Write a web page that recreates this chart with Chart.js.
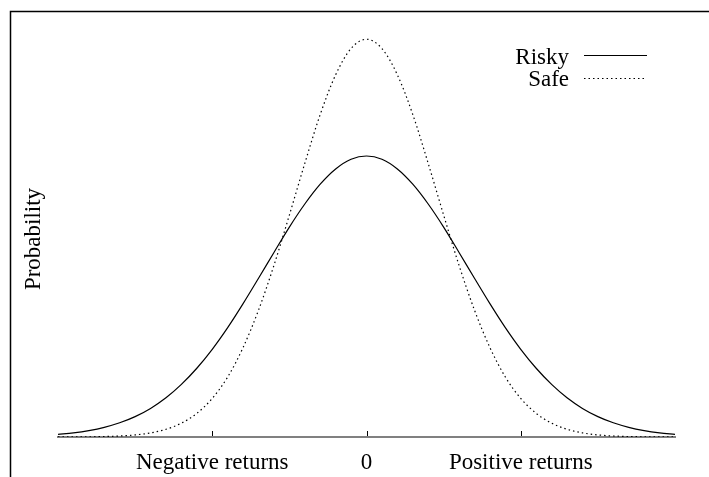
<!DOCTYPE html>
<html>
<head>
<meta charset="utf-8">
<script src="https://cdn.jsdelivr.net/npm/chart.js@4/dist/chart.umd.min.js"></script>
<style>
  html, body { margin: 0; padding: 0; background: #fff; }
  #wrap { position: relative; width: 709px; height: 477px; }
</style>
</head>
<body>
<div id="wrap"><canvas id="chart" width="709" height="477"></canvas></div>
<script>
// returns (x) sampled every 0.1 from -2 to 2
const returns = [
  -2.0, -1.9, -1.8, -1.7, -1.6, -1.5, -1.4, -1.3, -1.2, -1.1,
  -1.0, -0.9, -0.8, -0.7, -0.6, -0.5, -0.4, -0.3, -0.2, -0.1,
  0.0,
  0.1, 0.2, 0.3, 0.4, 0.5, 0.6, 0.7, 0.8, 0.9, 1.0,
  1.1, 1.2, 1.3, 1.4, 1.5, 1.6, 1.7, 1.8, 1.9, 2.0,
];

const riskyValues = [
  0.0058, 0.0091, 0.014, 0.021, 0.0308, 0.0442, 0.062, 0.085, 0.114, 0.149,
  0.19, 0.237, 0.289, 0.344, 0.4, 0.455, 0.505, 0.548, 0.581, 0.602,
  0.609,
  0.602, 0.581, 0.548, 0.505, 0.455, 0.4, 0.344, 0.289, 0.237, 0.19,
  0.149, 0.114, 0.085, 0.062, 0.0442, 0.0308, 0.021, 0.014, 0.0091, 0.0058,
];

const safeValues = [
  0.0001, 0.0002, 0.0004, 0.001, 0.0022, 0.0045, 0.0089, 0.0167, 0.03, 0.0513,
  0.0836, 0.13, 0.194, 0.275, 0.372, 0.481, 0.593, 0.699, 0.785, 0.842,
  0.862,
  0.842, 0.785, 0.699, 0.593, 0.481, 0.372, 0.275, 0.194, 0.13, 0.0836,
  0.0513, 0.03, 0.0167, 0.0089, 0.0045, 0.0022, 0.001, 0.0004, 0.0002, 0.0001,
];

const tickValues = [-1, 0, 1];
const tickLabels = ['Negative returns', '0', 'Positive returns'];

const SERIF = '"Liberation Serif", "DejaVu Serif", serif';
const FONT_SIZE = 23;

// outer frame (left + top edges only, the rest is cropped)
const framePlugin = {
  id: 'frame',
  beforeDraw(chart) {
    const ctx = chart.ctx;
    ctx.save();
    ctx.strokeStyle = '#000';
    ctx.lineWidth = 1.5;
    ctx.beginPath();
    ctx.moveTo(10.5, 477);
    ctx.lineTo(10.5, 11.5);
    ctx.lineTo(709, 11.5);
    ctx.stroke();

    // y label, rotated
    ctx.translate(34, 239);
    ctx.rotate(-Math.PI / 2);
    ctx.font = FONT_SIZE + 'px ' + SERIF;
    ctx.fillStyle = '#000';
    ctx.textAlign = 'center';
    ctx.textBaseline = 'middle';
    ctx.fillText('Probability', 0, 0);
    ctx.restore();
  },
};

// small tick marks pointing up into the plot
const innerTicksPlugin = {
  id: 'innerTicks',
  afterDatasetsDraw(chart) {
    const x = chart.scales.x;
    const ctx = chart.ctx;
    const bottom = chart.chartArea.bottom;
    ctx.save();
    ctx.strokeStyle = '#000';
    ctx.lineWidth = 1;
    tickValues.forEach((v) => {
      const px = Math.round(x.getPixelForValue(v)) + 0.5;
      ctx.beginPath();
      ctx.moveTo(px, bottom - 1);
      ctx.lineTo(px, bottom - 6);
      ctx.stroke();
    });
    ctx.restore();
  },
};

// gnuplot style key: label right aligned, line sample after it
const keyPlugin = {
  id: 'key',
  afterDraw(chart) {
    const ctx = chart.ctx;
    const rows = [
      { y: 55, base: 64 },
      { y: 78, base: 86 },
    ];
    ctx.save();
    ctx.font = FONT_SIZE + 'px ' + SERIF;
    ctx.fillStyle = '#000';
    ctx.textAlign = 'right';
    ctx.textBaseline = 'alphabetic';
    chart.data.datasets.forEach((ds, i) => {
      const r = rows[i];
      ctx.fillText(ds.label, 569, r.base);
      ctx.strokeStyle = ds.borderColor;
      ctx.lineWidth = ds.borderWidth;
      ctx.setLineDash(ds.borderDash || []);
      ctx.beginPath();
      ctx.moveTo(584, r.y + 0.5);
      ctx.lineTo(647, r.y + 0.5);
      ctx.stroke();
    });
    ctx.restore();
  },
};

new Chart(document.getElementById('chart'), {
  type: 'line',
  data: {
    datasets: [
      {
        label: 'Risky',
        data: returns.map((x, i) => ({ x: x, y: riskyValues[i] })),
        borderColor: '#000',
        borderWidth: 1.2,
        pointRadius: 0,
        cubicInterpolationMode: 'monotone',
        fill: false,
      },
      {
        label: 'Safe',
        data: returns.map((x, i) => ({ x: x, y: safeValues[i] })),
        borderColor: '#000',
        borderWidth: 1.2,
        borderDash: [1.5, 3],
        pointRadius: 0,
        cubicInterpolationMode: 'monotone',
        fill: false,
      },
    ],
  },
  options: {
    responsive: false,
    animation: false,
    layout: {
      padding: { left: 58, right: 34, top: 12.5, bottom: 0 },
    },
    scales: {
      x: {
        type: 'linear',
        min: -2,
        max: 2,
        afterBuildTicks: (scale) => {
          scale.ticks = tickValues.map((v) => ({ value: v }));
        },
        afterFit: (scale) => {
          scale.height = 40;
        },
        ticks: {
          color: '#000',
          padding: 12,
          maxRotation: 0,
          autoSkip: false,
          font: { family: SERIF, size: FONT_SIZE },
          callback: (value) => tickLabels[tickValues.indexOf(value)],
        },
        grid: { display: false, drawTicks: false },
        border: { display: true, color: '#808080', width: 2 },
      },
      y: {
        display: false,
        min: 0,
        max: 0.92,
      },
    },
    plugins: {
      legend: { display: false },
      tooltip: { enabled: false },
    },
  },
  plugins: [framePlugin, innerTicksPlugin, keyPlugin],
});
</script>
</body>
</html>
